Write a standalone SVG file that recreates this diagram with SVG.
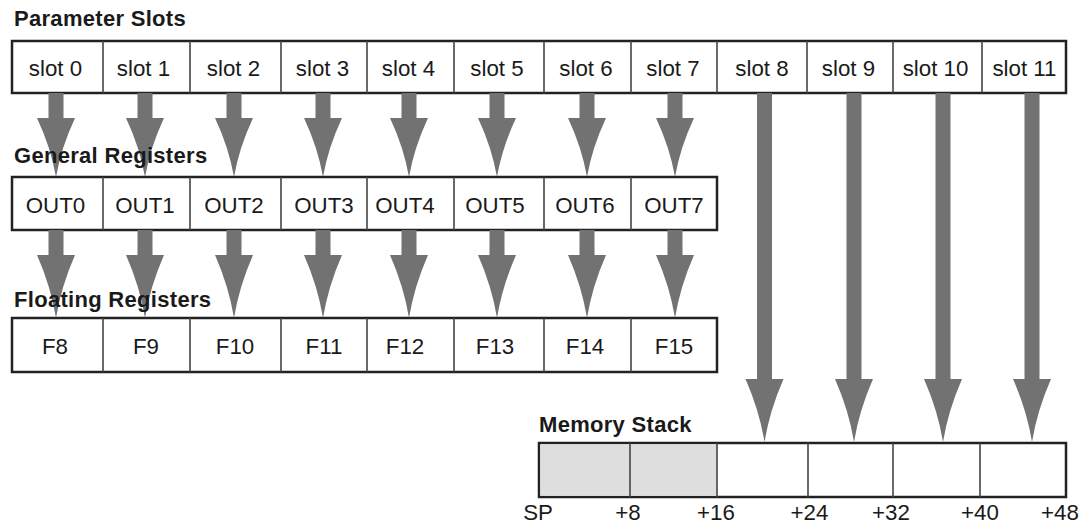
<svg xmlns="http://www.w3.org/2000/svg" width="1083" height="525" viewBox="0 0 1083 525">
<style>
.frame{fill:#fff;stroke:#222;stroke-width:2.5}
.div{stroke:#444;stroke-width:1.6}
.shade{fill:#dedede}
.lbl{font-family:"Liberation Sans",Arial,sans-serif;font-size:22.3px;fill:#1a1a1a;text-anchor:middle}
.head{font-family:"Liberation Sans",Arial,sans-serif;font-size:22px;font-weight:bold;fill:#1a1a1a;letter-spacing:0.3px}
.arr{fill:#727272}
</style>
<defs>
<path id="a1" d="M-7.5,0 H7.5 V25 H19 Q5,55 0,84 Q-5,55 -19,25 H-7.5 Z"/>
<path id="a2" d="M-7.5,0 H7.5 V25 H19 Q5,57 0,88 Q-5,57 -19,25 H-7.5 Z"/>
<path id="a3" d="M-7.5,0 H7.5 V286 H19 Q5,318 0,349 Q-5,318 -19,286 H-7.5 Z"/>
</defs>
<rect width="1083" height="525" fill="#fff"/>

<g id="parameter-slots">
<rect class="frame" x="12" y="41" width="1054" height="52"/>
<g class="div">
<line x1="103" y1="41" x2="103" y2="93"/><line x1="190" y1="41" x2="190" y2="93"/>
<line x1="281" y1="41" x2="281" y2="93"/><line x1="367" y1="41" x2="367" y2="93"/>
<line x1="454" y1="41" x2="454" y2="93"/><line x1="544" y1="41" x2="544" y2="93"/>
<line x1="631" y1="41" x2="631" y2="93"/><line x1="717" y1="41" x2="717" y2="93"/>
<line x1="807" y1="41" x2="807" y2="93"/><line x1="893" y1="41" x2="893" y2="93"/>
<line x1="982" y1="41" x2="982" y2="93"/>
</g>
<g class="lbl">
<text x="55.5" y="76">slot 0</text><text x="143.5" y="76">slot 1</text>
<text x="233.5" y="76">slot 2</text><text x="322.5" y="76">slot 3</text>
<text x="408.5" y="76">slot 4</text><text x="497" y="76">slot 5</text>
<text x="586" y="76">slot 6</text><text x="673" y="76">slot 7</text>
<text x="762" y="76">slot 8</text><text x="848.5" y="76">slot 9</text>
<text x="935.5" y="76">slot 10</text><text x="1024.5" y="76">slot 11</text>
</g>
</g>

<g id="general-registers">
<rect class="frame" x="12" y="177" width="705" height="53"/>
<g class="div">
<line x1="103" y1="177" x2="103" y2="230"/><line x1="190" y1="177" x2="190" y2="230"/>
<line x1="281" y1="177" x2="281" y2="230"/><line x1="367" y1="177" x2="367" y2="230"/>
<line x1="454" y1="177" x2="454" y2="230"/><line x1="544" y1="177" x2="544" y2="230"/>
<line x1="631" y1="177" x2="631" y2="230"/>
</g>
<g class="lbl">
<text x="55.5" y="213">OUT0</text><text x="145" y="213">OUT1</text>
<text x="234" y="213">OUT2</text><text x="324" y="213">OUT3</text>
<text x="405" y="213">OUT4</text><text x="495" y="213">OUT5</text>
<text x="585" y="213">OUT6</text><text x="674" y="213">OUT7</text>
</g>
</g>

<g id="floating-registers">
<rect class="frame" x="12" y="318" width="705" height="54"/>
<g class="div">
<line x1="103" y1="318" x2="103" y2="372"/><line x1="190" y1="318" x2="190" y2="372"/>
<line x1="281" y1="318" x2="281" y2="372"/><line x1="367" y1="318" x2="367" y2="372"/>
<line x1="454" y1="318" x2="454" y2="372"/><line x1="544" y1="318" x2="544" y2="372"/>
<line x1="631" y1="318" x2="631" y2="372"/>
</g>
<g class="lbl">
<text x="55" y="354">F8</text><text x="146" y="354">F9</text>
<text x="235" y="354">F10</text><text x="324" y="354">F11</text>
<text x="405" y="354">F12</text><text x="495" y="354">F13</text>
<text x="585" y="354">F14</text><text x="674" y="354">F15</text>
</g>
</g>

<g id="memory-stack">
<rect class="frame" x="539" y="443" width="527" height="54"/>
<rect class="shade" x="540.3" y="444.3" width="176.7" height="51.4"/>
<g class="div">
<line x1="630" y1="443" x2="630" y2="497"/><line x1="717" y1="443" x2="717" y2="497"/>
<line x1="808" y1="443" x2="808" y2="497"/><line x1="893" y1="443" x2="893" y2="497"/>
<line x1="980" y1="443" x2="980" y2="497"/>
</g>
<g class="lbl">
<text x="538" y="520">SP</text><text x="628" y="520">+8</text>
<text x="716" y="520">+16</text><text x="809.5" y="520">+24</text>
<text x="891" y="520">+32</text><text x="980" y="520">+40</text>
<text x="1060" y="520">+48</text>
</g>
</g>

<g id="connectors" class="arr">
<use href="#a1" x="56" y="93"/><use href="#a1" x="145" y="93"/>
<use href="#a1" x="234" y="93"/><use href="#a1" x="323" y="93"/>
<use href="#a1" x="409" y="93"/><use href="#a1" x="497" y="93"/>
<use href="#a1" x="587" y="93"/><use href="#a1" x="675" y="93"/>
<use href="#a2" x="56" y="230"/><use href="#a2" x="145" y="230"/>
<use href="#a2" x="234" y="230"/><use href="#a2" x="323" y="230"/>
<use href="#a2" x="409" y="230"/><use href="#a2" x="497" y="230"/>
<use href="#a2" x="587" y="230"/><use href="#a2" x="675" y="230"/>
<use href="#a3" x="764.5" y="93"/><use href="#a3" x="854" y="93"/>
<use href="#a3" x="943" y="93"/><use href="#a3" x="1032" y="93"/>
</g>

<g id="headings" class="head">
<text x="14" y="26">Parameter Slots</text>
<text x="14" y="163">General Registers</text>
<text x="14" y="307">Floating Registers</text>
<text x="539" y="432">Memory Stack</text>
</g>
</svg>
